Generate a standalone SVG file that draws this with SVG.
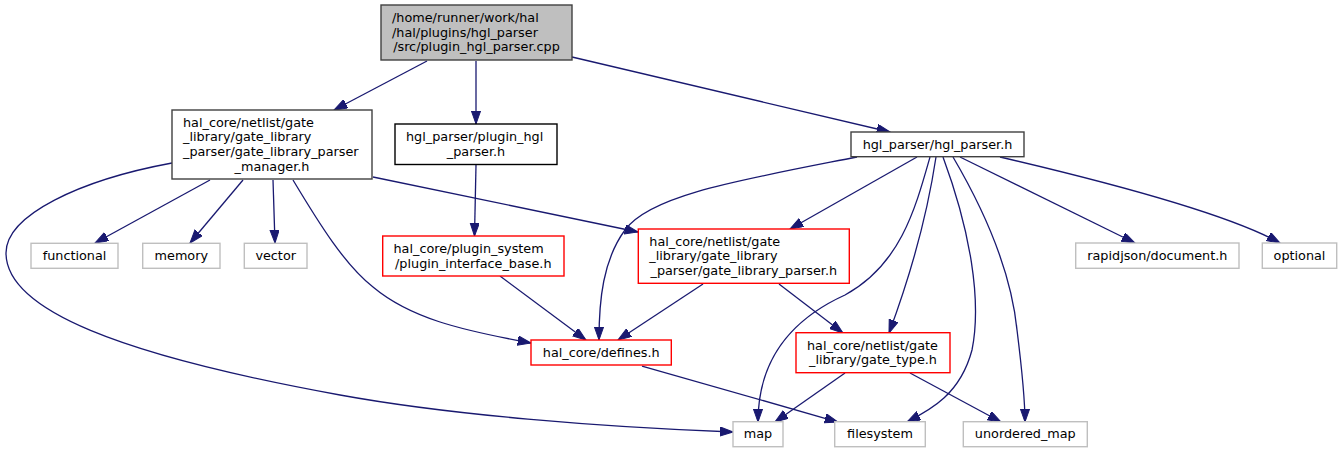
<svg xmlns="http://www.w3.org/2000/svg" width="1343" height="453" viewBox="0 0 1343 453">
<style>
text{font-family:"DejaVu Sans",sans-serif;font-size:12.8px;fill:#000}
.m{text-anchor:middle}
.n rect{fill:#fff;stroke:#404040;stroke-width:1.4}
.n.root rect{fill:#bfbfbf}
.n.blk rect{stroke:#000}
.n.red rect{stroke:#ff0000}
.n.gry rect{stroke:#bfbfbf}
#edges path{fill:none;stroke:#191970;stroke-width:1.3;marker-end:url(#ah)}
</style>
<defs>
<marker id="ah" markerUnits="userSpaceOnUse" markerWidth="14" markerHeight="10" refX="13.3" refY="4.7" orient="auto" viewBox="0 0 14 10">
<path d="M0,0 L13.3,4.7 L0,9.4 Z" fill="#191970" stroke="#191970" stroke-width="1"/>
</marker>
</defs>
<rect width="1343" height="453" fill="#fff"/>
<g id="edges">
<path d="M427,61 L334,110"/>
<path d="M476,61 L476,124"/>
<path d="M572,57 L890,132"/>
<path d="M210,180 L95,243"/>
<path d="M243,180 L190,243"/>
<path d="M273,180 L275,243"/>
<path d="M293,180 C320,225 345,265 373,287 C410,318 460,330 531,343"/>
<path d="M172,163 C80,180 6,215 6,253 C6,310 120,355 340,395 C450,415 600,427 733,432"/>
<path d="M373,177 L638,232"/>
<path d="M476,165 L474.5,236"/>
<path d="M500,276 L586,340"/>
<path d="M857,157 C740,180 650,195 625,230 C603,260 599,300 599,340"/>
<path d="M917,157 L790,229"/>
<path d="M930,157 C915,210 900,265 845,295 C790,320 758,360 758,422"/>
<path d="M936,157 C925,230 905,290 889,333"/>
<path d="M943,157 C970,230 982,300 972,350 C960,395 930,410 907,422"/>
<path d="M953,157 C990,220 1012,280 1017,330 C1022,370 1025,400 1025,422"/>
<path d="M960,157 L1135,243"/>
<path d="M1000,157 C1120,185 1230,215 1280,243"/>
<path d="M703,284 L618,340"/>
<path d="M779,284 L843,333"/>
<path d="M642,366 L838,422"/>
<path d="M845,373 L775,422"/>
<path d="M910,373 L1001,422"/>
</g>
<g id="root" class="n root">
<rect x="381" y="5" width="191" height="55"/>
<text x="392" y="22">/home/runner/work/hal</text>
<text x="392" y="36.7">/hal/plugins/hgl_parser</text>
<text x="476.5" y="51.4" class="m">/src/plugin_hgl_parser.cpp</text>
</g>
<g id="manager" class="n">
<rect x="172" y="110" width="200" height="69"/>
<text x="183" y="126.7">hal_core/netlist/gate</text>
<text x="183" y="141.4">_library/gate_library</text>
<text x="183" y="156.1">_parser/gate_library_parser</text>
<text x="272" y="170.8" class="m">_manager.h</text>
</g>
<g id="plugin_hgl" class="n blk">
<rect x="395" y="124" width="162" height="40.5"/>
<text x="406" y="141.2">hgl_parser/plugin_hgl</text>
<text x="476" y="155.9" class="m">_parser.h</text>
</g>
<g id="hgl_parser" class="n">
<rect x="851" y="132" width="173" height="24.7"/>
<text x="937.5" y="148.5" class="m">hgl_parser/hgl_parser.h</text>
</g>
<g id="functional" class="n gry">
<rect x="31" y="243.3" width="87" height="25"/>
<text x="74.5" y="260" class="m">functional</text>
</g>
<g id="memory" class="n gry">
<rect x="142.7" y="243.3" width="77.3" height="25"/>
<text x="181.3" y="260" class="m">memory</text>
</g>
<g id="vector" class="n gry">
<rect x="244.3" y="243.3" width="62.7" height="25"/>
<text x="275.7" y="260" class="m">vector</text>
</g>
<g id="plugin_interface_base" class="n red">
<rect x="382.7" y="236" width="181.3" height="40"/>
<text x="393.5" y="252.8">hal_core/plugin_system</text>
<text x="473.3" y="267.5" class="m">/plugin_interface_base.h</text>
</g>
<g id="gate_library_parser" class="n red">
<rect x="638.3" y="229" width="211" height="54.3"/>
<text x="649.3" y="245.7">hal_core/netlist/gate</text>
<text x="649.3" y="260.4">_library/gate_library</text>
<text x="743.8" y="275.1" class="m">_parser/gate_library_parser.h</text>
</g>
<g id="rapidjson" class="n gry">
<rect x="1075.7" y="243" width="163.3" height="25.3"/>
<text x="1157.3" y="259.8" class="m">rapidjson/document.h</text>
</g>
<g id="optional" class="n gry">
<rect x="1262.3" y="243" width="74.4" height="25.3"/>
<text x="1299.5" y="259.8" class="m">optional</text>
</g>
<g id="defines" class="n red">
<rect x="531" y="340" width="140.3" height="25"/>
<text x="601.2" y="356.7" class="m">hal_core/defines.h</text>
</g>
<g id="gate_type" class="n red">
<rect x="796" y="332.7" width="154" height="40"/>
<text x="807" y="349.5">hal_core/netlist/gate</text>
<text x="873" y="364.2" class="m">_library/gate_type.h</text>
</g>
<g id="map" class="n gry">
<rect x="733" y="421.7" width="50" height="25"/>
<text x="758" y="438.4" class="m">map</text>
</g>
<g id="filesystem" class="n gry">
<rect x="834.7" y="421.7" width="90.6" height="25"/>
<text x="880" y="438.4" class="m">filesystem</text>
</g>
<g id="unordered_map" class="n gry">
<rect x="963.3" y="421.7" width="124" height="25"/>
<text x="1025.3" y="438.4" class="m">unordered_map</text>
</g>
</svg>
